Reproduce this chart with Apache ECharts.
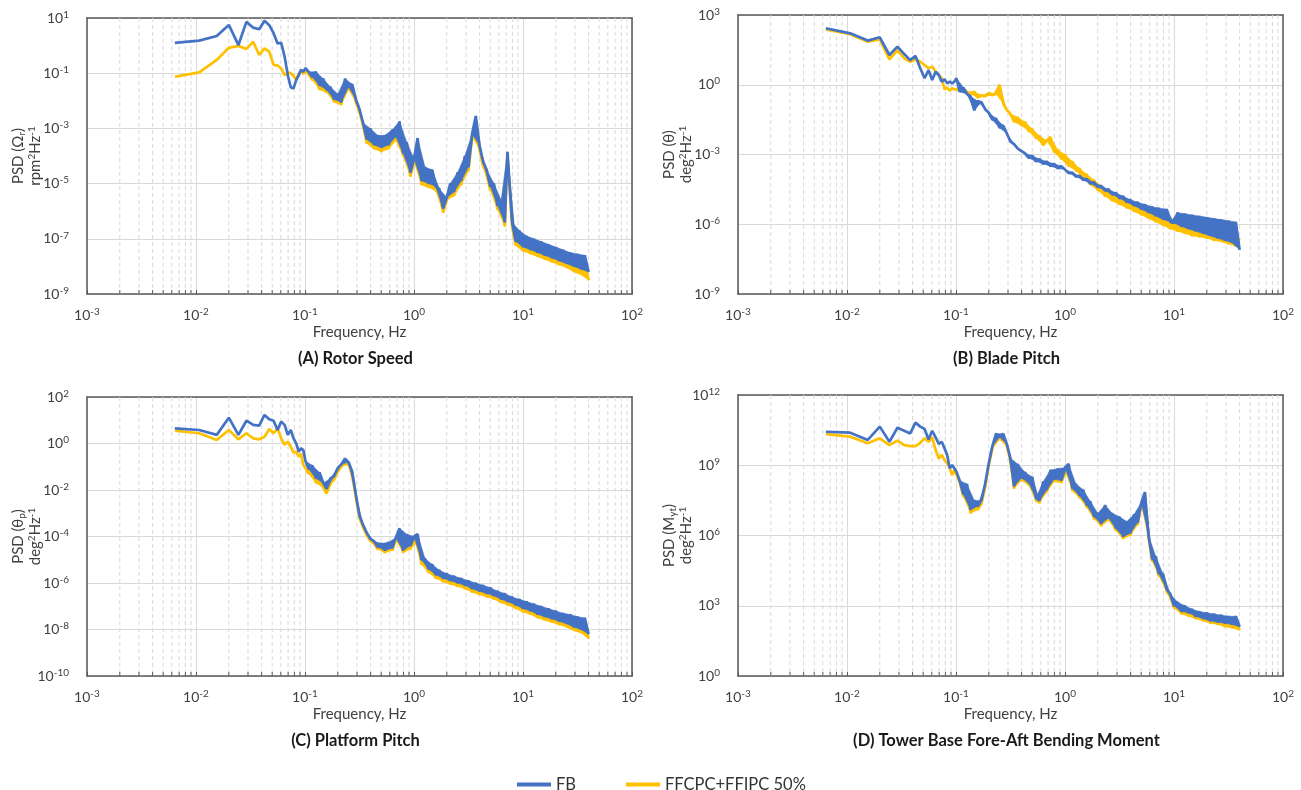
<!DOCTYPE html>
<html>
<head>
<meta charset="utf-8">
<script src="https://cdn.jsdelivr.net/npm/echarts@6/dist/echarts.min.js"></script>
<style>
html, body { margin: 0; padding: 0; background: #fff; }
#main { width: 1301px; height: 790px; }
</style>
</head>
<body>
<div id="main"></div>
<script>
// frequency grid, Hz
var freq = [
  0.0064, 0.0107, 0.0155, 0.0200, 0.0245, 0.0290, 0.0335, 0.0380, 0.0425, 0.0470,
  0.0515, 0.0560, 0.0605, 0.0650, 0.0695, 0.0740, 0.0785, 0.0830, 0.0875, 0.0920,
  0.0965,
  0.101, 0.108, 0.117, 0.126, 0.136, 0.147, 0.158, 0.171, 0.185, 0.200,
  0.215, 0.233, 0.251, 0.271, 0.293, 0.316, 0.341, 0.369, 0.398, 0.430,
  0.464, 0.501, 0.541, 0.584, 0.631, 0.681, 0.736, 0.794, 0.858, 0.926,
  1.00, 1.08, 1.17, 1.26, 1.36, 1.47, 1.58, 1.71, 1.85, 2.00,
  2.15, 2.33, 2.51, 2.71, 2.93, 3.16, 3.41, 3.69, 3.98, 4.30,
  4.64, 5.01, 5.41, 5.84, 6.31, 6.81, 7.20, 7.94, 8.58, 9.26,
  10.0, 10.8, 11.7, 12.6, 13.6, 14.7, 15.8, 17.1, 18.5, 20.0,
  21.5, 23.3, 25.1, 27.1, 29.3, 31.6, 34.1, 36.9, 40.0
];

// PSD values stored as log10
// (A) rotor speed
var rotorFB = [
  0.10, 0.18, 0.35, 0.75, 0.02, 0.86, 0.65, 0.59, 0.90, 0.74,
  0.45, 0.08, 0.10, -0.40, -1.07, -1.51, -1.55, -1.25, -1.07, -0.88,
  -0.95,
  -0.82, -0.95, -1.15, -0.95, -1.45, -1.20, -1.60, -1.50, -1.95, -1.75,
  -2.05, -1.20, -1.50, -1.40, -1.95, -2.30, -2.80, -3.40, -3.00, -3.60,
  -3.25, -3.70, -3.25, -3.60, -3.05, -3.30, -2.75, -3.90, -3.50, -4.60,
  -4.10, -3.35, -4.90, -4.40, -5.00, -4.50, -5.10, -5.20, -5.90, -5.50,
  -5.00, -5.30, -4.60, -4.90, -4.00, -4.40, -3.20, -2.55, -3.60, -4.20,
  -4.50, -5.10, -5.00, -5.80, -5.60, -6.40, -3.85, -6.40, -7.10, -6.70,
  -7.30, -6.90, -7.40, -7.00, -7.50, -7.10, -7.60, -7.20, -7.70, -7.30,
  -7.80, -7.40, -7.90, -7.50, -8.00, -7.55, -8.10, -7.60, -8.20
];
var rotorFF = [
  -1.13, -0.97, -0.52, -0.08, -0.01, -0.12, 0.14, -0.34, -0.10, -0.22,
  -0.70, -0.72, -0.82, -1.07, -0.98, -1.00, -1.10, -1.25, -1.03, -0.91,
  -1.03,
  -0.88, -1.05, -1.25, -1.10, -1.60, -1.35, -1.70, -1.60, -2.05, -1.85,
  -2.15, -1.30, -1.60, -1.50, -2.05, -2.40, -2.90, -3.55, -3.10, -3.75,
  -3.35, -3.85, -3.35, -3.75, -3.15, -3.45, -2.85, -4.00, -3.60, -4.75,
  -4.20, -3.45, -5.05, -4.50, -5.15, -4.60, -5.25, -5.35, -6.05, -5.60,
  -5.10, -5.45, -4.70, -5.05, -4.10, -4.55, -3.30, -2.65, -3.75, -4.35,
  -4.65, -5.25, -5.10, -5.95, -5.70, -6.55, -3.95, -6.55, -7.25, -6.85,
  -7.45, -7.05, -7.55, -7.15, -7.65, -7.25, -7.75, -7.35, -7.85, -7.45,
  -7.95, -7.55, -8.05, -7.65, -8.20, -7.70, -8.30, -7.75, -8.50
];

// (B) blade pitch
var pitchFB = [
  2.43, 2.21, 1.90, 2.04, 1.28, 1.64, 1.32, 1.06, 1.24, 0.71,
  0.28, 0.63, 0.20, 0.56, 0.42, 0.13, 0.24, 0.06, 0.13, 0.06,
  0.13,
  0.28, -0.30, -0.12, -0.40, -0.50, -1.10, -0.70, -0.75, -1.05, -1.20,
  -1.50, -1.45, -1.85, -1.75, -2.10, -2.45, -2.55, -2.75, -2.85, -2.95,
  -3.15, -3.05, -3.30, -3.20, -3.40, -3.30, -3.50, -3.40, -3.60, -3.50,
  -3.65, -3.80, -3.78, -3.95, -3.92, -4.10, -4.05, -4.25, -4.20, -4.40,
  -4.35, -4.55, -4.50, -4.72, -4.65, -4.88, -4.80, -5.05, -4.95, -5.20,
  -5.05, -5.35, -5.15, -5.50, -5.25, -5.65, -5.30, -5.80, -5.35, -5.90,
  -5.95, -5.50, -6.10, -5.55, -6.20, -5.60, -6.30, -5.65, -6.40, -5.70,
  -6.50, -5.75, -6.60, -5.80, -6.70, -5.85, -6.80, -5.90, -7.10
];
var pitchFF = [
  2.38, 2.17, 1.85, 1.95, 1.09, 1.49, 1.14, 0.99, 1.09, 0.99,
  0.85, 0.71, 0.78, 0.56, 0.42, 0.28, -0.20, -0.12, -0.26, -0.15,
  -0.20,
  -0.20, -0.25, -0.20, -0.30, -0.40, -0.30, -0.55, -0.45, -0.50, -0.35,
  -0.45, -0.40, 0.00, -0.80, -1.10, -1.25, -1.60, -1.40, -1.75, -1.60,
  -2.00, -1.90, -2.30, -2.20, -2.60, -2.40, -2.25, -2.90, -2.80, -3.20,
  -3.00, -3.50, -3.30, -3.70, -3.60, -4.00, -3.85, -4.30, -4.10, -4.55,
  -4.35, -4.80, -4.55, -5.00, -4.75, -5.15, -4.95, -5.30, -5.10, -5.45,
  -5.25, -5.60, -5.40, -5.75, -5.55, -5.90, -5.70, -6.05, -5.85, -6.20,
  -5.95, -6.30, -6.05, -6.40, -6.15, -6.50, -6.20, -6.55, -6.30, -6.60,
  -6.35, -6.70, -6.40, -6.75, -6.45, -6.85, -6.50, -6.95, -6.60
];

// (C) platform pitch
var platformFB = [
  0.65, 0.58, 0.37, 1.11, 0.37, 0.98, 0.80, 0.77, 1.23, 1.04,
  0.98, 0.58, 0.94, 0.80, 0.37, 0.58, 0.22, 0.01, -0.35, -0.21,
  -0.28,
  -0.75, -1.10, -0.95, -1.50, -1.25, -1.70, -1.95, -1.50, -1.40, -1.05,
  -0.90, -0.65, -0.80, -1.20, -2.20, -3.10, -3.50, -3.85, -4.10, -4.20,
  -4.45, -4.30, -4.60, -4.25, -4.50, -4.05, -3.65, -4.60, -3.90, -4.40,
  -4.00, -3.90, -5.00, -4.95, -5.40, -5.20, -5.65, -5.45, -5.80, -5.60,
  -5.90, -5.70, -6.00, -5.80, -6.10, -5.90, -6.25, -6.00, -6.35, -6.10,
  -6.45, -6.20, -6.55, -6.35, -6.70, -6.45, -6.80, -6.60, -6.95, -6.70,
  -7.10, -6.80, -7.20, -6.90, -7.35, -7.00, -7.45, -7.10, -7.55, -7.20,
  -7.65, -7.30, -7.75, -7.35, -7.90, -7.45, -8.00, -7.50, -8.20
];
var platformFF = [
  0.55, 0.44, 0.15, 0.58, 0.18, 0.44, 0.22, 0.18, 0.29, 0.62,
  0.44, 0.65, 0.22, -0.06, 0.08, -0.14, -0.40, -0.35, -0.57, -0.43,
  -0.92,
  -1.07, -1.30, -1.10, -1.70, -1.50, -1.90, -2.15, -1.70, -1.55, -1.20,
  -1.00, -0.70, -0.90, -1.35, -2.35, -3.20, -3.60, -3.95, -4.20, -4.30,
  -4.55, -4.40, -4.70, -4.35, -4.60, -4.15, -3.75, -4.70, -4.00, -4.55,
  -4.10, -4.20, -5.20, -5.10, -5.55, -5.35, -5.80, -5.60, -5.95, -5.75,
  -6.05, -5.85, -6.15, -5.95, -6.25, -6.05, -6.40, -6.15, -6.50, -6.25,
  -6.60, -6.35, -6.70, -6.50, -6.85, -6.60, -6.95, -6.75, -7.10, -6.85,
  -7.25, -6.95, -7.35, -7.05, -7.50, -7.15, -7.60, -7.25, -7.70, -7.35,
  -7.80, -7.45, -7.90, -7.50, -8.05, -7.60, -8.15, -7.65, -8.40
];

// (D) tower base fore-aft bending moment
var towerFB = [
  10.43, 10.39, 10.08, 10.65, 10.00, 10.60, 10.47, 10.36, 10.82, 10.65,
  10.55, 10.10, 10.47, 10.19, 9.91, 10.00, 9.72, 9.44, 8.87, 9.01,
  8.87,
  8.72, 8.35, 7.75, 8.20, 7.10, 7.50, 7.25, 7.50, 8.20, 9.10,
  9.80, 10.35, 10.20, 10.35, 9.90, 9.30, 8.10, 9.05, 8.45, 8.70,
  8.25, 8.50, 7.60, 7.50, 8.30, 7.95, 8.80, 8.40, 8.85, 8.35,
  8.90, 9.05, 8.00, 8.20, 7.70, 7.95, 7.30, 7.45, 6.80, 6.95,
  6.50, 7.30, 6.75, 6.95, 6.30, 6.80, 5.95, 6.60, 6.10, 6.90,
  6.55, 7.40, 7.85, 6.00, 5.00, 5.10, 4.40, 4.35, 3.70, 3.50,
  3.00, 3.15, 2.75, 3.00, 2.70, 2.85, 2.55, 2.75, 2.45, 2.70,
  2.35, 2.65, 2.30, 2.60, 2.25, 2.55, 2.20, 2.55, 2.10
];
var towerFF = [
  10.33, 10.22, 9.94, 10.15, 9.86, 10.05, 9.86, 9.82, 9.82, 9.96,
  10.15, 10.00, 10.19, 9.65, 9.29, 9.44, 9.22, 9.08, 8.90, 8.58,
  8.80,
  8.58, 8.30, 7.65, 8.00, 6.95, 7.30, 7.10, 7.35, 8.05, 9.00,
  9.70, 10.30, 10.10, 10.25, 9.80, 9.20, 8.00, 8.95, 8.35, 8.60,
  8.15, 8.40, 7.50, 7.40, 8.20, 7.85, 8.70, 8.30, 8.75, 8.25,
  8.80, 8.80, 7.90, 8.10, 7.60, 7.85, 7.20, 7.35, 6.70, 6.85,
  6.40, 7.20, 6.65, 6.85, 6.20, 6.70, 5.85, 6.50, 6.00, 6.80,
  6.45, 7.30, 7.70, 5.90, 4.90, 5.00, 4.30, 4.20, 3.60, 3.40,
  2.90, 3.05, 2.65, 2.90, 2.55, 2.75, 2.45, 2.65, 2.35, 2.60,
  2.25, 2.50, 2.20, 2.45, 2.10, 2.40, 2.05, 2.35, 1.95
];

var seriesNames = ['FB', 'FFCPC+FFIPC 50%'];
var colors = ['#4472C4', '#FFC000'];

// minor x ticks (2..9 in each decade)
var decades = [-3, -2, -1, 0, 1];
var mantissas = [2, 3, 4, 5, 6, 7, 8, 9];
var minorTicks = [];
decades.forEach(function (d) {
  mantissas.forEach(function (m) { minorTicks.push(m * Math.pow(10, d)); });
});

// the noisy part of each spectrum (from this index on) is drawn as a filled band
var bandStart = 21;

var panels = [
  {
    fb: rotorFB, ff: rotorFF, yMin: 1e-9, yMax: 1e1, yStep: 2,
    grid: {left: 87, top: 18, width: 545, height: 276},
    yName: '{n|PSD (Ω}{sub|r}{n|)}\n{n|rpm}{sup|2}{n|Hz}{sup|-1}',
    title: '(A) Rotor Speed'
  },
  {
    fb: pitchFB, ff: pitchFF, yMin: 1e-9, yMax: 1e3, yStep: 3,
    grid: {left: 738, top: 15, width: 545, height: 279},
    yName: '{n|PSD (θ)}\n{n|deg}{sup|2}{n|Hz}{sup|-1}',
    title: '(B) Blade Pitch'
  },
  {
    fb: platformFB, ff: platformFF, yMin: 1e-10, yMax: 1e2, yStep: 2,
    grid: {left: 87, top: 397, width: 545, height: 279},
    yName: '{n|PSD (θ}{sub|p}{n|)}\n{n|deg}{sup|2}{n|Hz}{sup|-1}',
    title: '(C) Platform Pitch'
  },
  {
    fb: towerFB, ff: towerFF, yMin: 1e0, yMax: 1e12, yStep: 3,
    grid: {left: 738, top: 395, width: 545, height: 281},
    yName: '{n|PSD (M}{sub|yt}{n|)}\n{n|deg}{sup|2}{n|Hz}{sup|-1}',
    title: '(D) Tower Base Fore-Aft Bending Moment'
  }
];

var textColor = '#404040';
var frameColor = '#595959';
var gridColor = '#d9d9d9';

function powLabel(v) {
  var e = Math.round(Math.log(v) / Math.LN10);
  return '{b|10}{e|' + e + '}';
}

var powRich = {
  b: {fontSize: 14, color: textColor, fontFamily: 'Lato', lineHeight: 17},
  e: {fontSize: 10, color: textColor, fontFamily: 'Lato', lineHeight: 9, verticalAlign: 'top'}
};

function renderMinor(params, api) {
  var cs = params.coordSys;
  var x = api.coord([api.value(0), api.value(1)])[0];
  var yb = cs.y + cs.height;
  return {
    type: 'group',
    children: [
      {type: 'line', shape: {x1: x, y1: cs.y, x2: x, y2: yb},
        style: {stroke: gridColor, lineWidth: 1, lineDash: [4, 3]}},
      {type: 'line', shape: {x1: x, y1: yb, x2: x, y2: yb - 4},
        style: {stroke: frameColor, lineWidth: 1}}
    ]
  };
}

// fill the gaps between consecutive zig-zag strokes so the noisy band reads as solid
function makeBandRenderer(color) {
  return function (params, api) {
    var a = api.coord([api.value(0), api.value(1)]);
    var b = api.coord([api.value(2), api.value(3)]);
    var c = api.coord([api.value(4), api.value(5)]);
    // keep isolated narrow spikes as plain lines
    if (Math.min(Math.abs(b[1] - a[1]), Math.abs(b[1] - c[1])) > 40) return null;
    return {
      type: 'polygon',
      shape: {points: [a, b, c]},
      style: {fill: color, stroke: color, lineWidth: 0.5}
    };
  };
}

function toPoints(vals) {
  return freq.map(function (f, i) { return [f, Math.pow(10, vals[i])]; });
}

function toTriples(vals) {
  var out = [];
  for (var i = bandStart; i + 2 < freq.length; i++) {
    out.push([freq[i], Math.pow(10, vals[i]), freq[i + 1], Math.pow(10, vals[i + 1]),
      freq[i + 2], Math.pow(10, vals[i + 2])]);
  }
  return out;
}

var grids = [], xAxes = [], yAxes = [], series = [], graphics = [];

panels.forEach(function (p, i) {
  grids.push(p.grid);
  var xi = xAxes.length, yi = yAxes.length;
  xAxes.push({
    type: 'log', logBase: 10, gridIndex: i, min: 1e-3, max: 1e2, interval: 1,
    name: 'Frequency, Hz', nameLocation: 'middle', nameGap: 31, nameMoveOverlap: false,
    nameTextStyle: {fontSize: 15, color: textColor, fontFamily: 'Lato'},
    axisLine: {show: true, lineStyle: {color: frameColor, width: 1.5}},
    axisTick: {show: true, inside: true, length: 4, lineStyle: {color: frameColor}},
    axisLabel: {margin: 13, formatter: powLabel, rich: powRich, showMinLabel: true, showMaxLabel: true},
    splitLine: {show: true, lineStyle: {color: gridColor, width: 1}},
    minorTick: {show: false}, minorSplitLine: {show: false}
  });
  xAxes.push({
    type: 'value', gridIndex: i, position: 'top', min: 0, max: 1,
    axisLine: {show: true, onZero: false, lineStyle: {color: frameColor, width: 1.5}},
    axisTick: {show: false}, axisLabel: {show: false}, splitLine: {show: false}
  });
  yAxes.push({
    type: 'log', logBase: 10, gridIndex: i, min: p.yMin, max: p.yMax, interval: p.yStep,
    name: p.yName, nameLocation: 'middle', nameRotate: 90, nameGap: 43, nameMoveOverlap: false,
    nameTextStyle: {
      color: textColor, fontFamily: 'Lato', lineHeight: 17,
      rich: {
        n: {fontSize: 15, color: textColor, fontFamily: 'Lato', lineHeight: 17},
        sup: {fontSize: 10, color: textColor, fontFamily: 'Lato', lineHeight: 12, verticalAlign: 'top'},
        sub: {fontSize: 10, color: textColor, fontFamily: 'Lato', lineHeight: 12, verticalAlign: 'bottom'}
      }
    },
    axisLine: {show: true, lineStyle: {color: frameColor, width: 1.5}},
    axisTick: {show: false},
    axisLabel: {margin: 18, formatter: powLabel, rich: powRich, showMinLabel: true, showMaxLabel: true},
    splitLine: {show: true, lineStyle: {color: gridColor, width: 1}}
  });
  yAxes.push({
    type: 'value', gridIndex: i, position: 'right', min: 0, max: 1,
    axisLine: {show: true, onZero: false, lineStyle: {color: frameColor, width: 1.5}},
    axisTick: {show: false}, axisLabel: {show: false}, splitLine: {show: false}
  });

  series.push({
    type: 'custom', silent: true, xAxisIndex: xi, yAxisIndex: yi, z: 1,
    renderItem: renderMinor,
    data: minorTicks.map(function (v) { return [v, p.yMin]; })
  });
  // yellow below, blue on top
  [[1, p.ff, 3], [0, p.fb, 5]].forEach(function (s) {
    var k = s[0];
    series.push({
      type: 'custom', silent: true, xAxisIndex: xi, yAxisIndex: yi, z: s[2],
      renderItem: makeBandRenderer(colors[k]),
      encode: {x: [0, 2, 4], y: [1, 3, 5]},
      data: toTriples(s[1])
    });
    series.push({
      name: seriesNames[k], type: 'line', xAxisIndex: xi, yAxisIndex: yi,
      symbol: 'none', showSymbol: false, z: s[2] + 1,
      lineStyle: {color: colors[k], width: 2.7}, itemStyle: {color: colors[k]},
      data: toPoints(s[1])
    });
  });

  var g = p.grid;
  graphics.push({
    type: 'text',
    x: g.left + g.width / 2 - 4,
    y: g.top + g.height + 65,
    style: {
      text: p.title, fill: '#1a1a1a', font: 'bold 16.5px Lato',
      align: 'center', verticalAlign: 'middle'
    }
  });
});

var chart = echarts.init(document.getElementById('main'));
chart.setOption({
  animation: false,
  backgroundColor: '#fff',
  textStyle: {fontFamily: 'Lato'},
  grid: grids,
  xAxis: xAxes,
  yAxis: yAxes,
  legend: {
    top: 771, left: 512, icon: 'rect', itemWidth: 34, itemHeight: 4, itemGap: 50,
    data: seriesNames,
    textStyle: {fontSize: 16.5, color: '#333', fontFamily: 'Lato'}
  },
  graphic: graphics,
  series: series
});
</script>
</body>
</html>
